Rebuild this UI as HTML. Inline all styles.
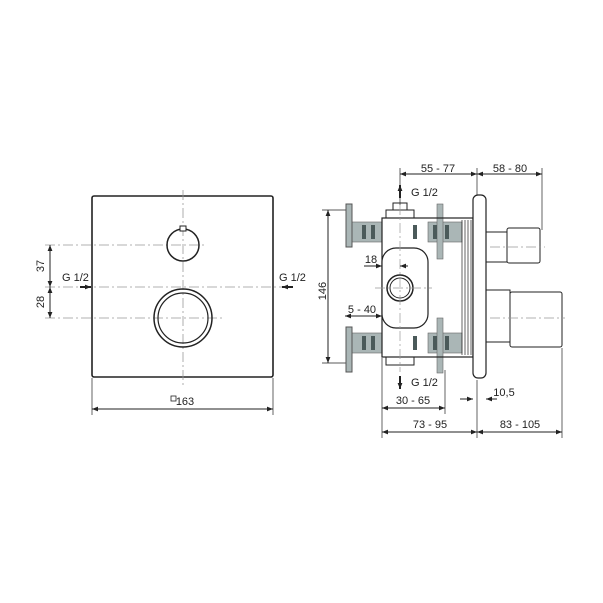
<!DOCTYPE html>
<html><head><style>body{margin:0;background:#fff}svg{display:block}text{font-family:"Liberation Sans",sans-serif;font-size:11px;fill:#222}</style></head>
<body>
<svg width="603" height="603" viewBox="0 0 603 603" xmlns="http://www.w3.org/2000/svg">
<defs>
<marker id="a" viewBox="0 0 10 10" refX="10" refY="5" markerUnits="userSpaceOnUse" markerWidth="8" markerHeight="6" orient="auto-start-reverse"><path d="M0,1 L10,5 L0,9 z" fill="#222"/></marker>
</defs>
<g stroke="#222" fill="none" stroke-width="1">
<!-- LEFT -->
<rect x="92" y="196" width="181" height="181" rx="2" stroke-width="1.6"/>
<g stroke="#999" stroke-dasharray="10,3,2,3" stroke-width="0.8">
<line x1="183" y1="190" x2="183" y2="385"/>
<line x1="45" y1="245" x2="207" y2="245"/>
<line x1="45" y1="287" x2="292" y2="287"/>
<line x1="45" y1="318" x2="223" y2="318"/>
</g>
<circle cx="183" cy="245" r="16" stroke-width="1.5"/>
<rect x="180" y="226" width="6" height="5" fill="#fff" stroke-width="1"/>
<circle cx="183" cy="318" r="29" stroke-width="1.5"/>
<circle cx="183" cy="318" r="25" stroke-width="1.2"/>
<line x1="50" y1="245" x2="50" y2="287" marker-start="url(#a)" marker-end="url(#a)"/>
<line x1="50" y1="287" x2="50" y2="318" marker-start="url(#a)" marker-end="url(#a)"/>
<line x1="80" y1="287" x2="91" y2="287" stroke-width="2" marker-end="url(#a)"/>
<line x1="293" y1="287" x2="282" y2="287" stroke-width="2" marker-end="url(#a)"/>
<line x1="92" y1="378" x2="92" y2="415" stroke-width="0.7"/>
<line x1="273" y1="378" x2="273" y2="415" stroke-width="0.7"/>
<line x1="92" y1="409" x2="273" y2="409" marker-start="url(#a)" marker-end="url(#a)"/>
<rect x="171" y="396" width="5" height="5" stroke-width="0.8"/>

<!-- RIGHT -->
<line x1="400" y1="168" x2="400" y2="205" stroke-width="0.7"/>
<line x1="477" y1="168" x2="477" y2="195" stroke-width="0.7"/>
<line x1="542" y1="168" x2="542" y2="230" stroke-width="0.7"/>
<line x1="400" y1="174" x2="477" y2="174" marker-start="url(#a)" marker-end="url(#a)"/>
<line x1="477" y1="174" x2="542" y2="174" marker-start="url(#a)" marker-end="url(#a)"/>
<line x1="400" y1="198" x2="400" y2="185" stroke-width="2" marker-end="url(#a)"/>
<line x1="400" y1="376" x2="400" y2="389" stroke-width="2" marker-end="url(#a)"/>
<line x1="322" y1="210" x2="346" y2="210" stroke-width="0.7"/>
<line x1="322" y1="363" x2="346" y2="363" stroke-width="0.7"/>
<line x1="328" y1="210" x2="328" y2="363" marker-start="url(#a)" marker-end="url(#a)"/>
<g fill="#aab6b6" stroke="#666" stroke-width="0.6">
<rect x="352" y="222" width="30" height="20"/>
<rect x="428" y="222" width="34" height="20"/>
<rect x="352" y="333" width="30" height="20"/>
<rect x="428" y="333" width="34" height="20"/>
<rect x="437" y="204" width="6" height="55"/>
<rect x="437" y="318" width="6" height="55"/>
</g>
<g fill="#4b5a5a" stroke="none">
<rect x="362" y="225" width="4" height="14"/><rect x="371" y="225" width="4" height="14"/>
<rect x="362" y="336" width="4" height="14"/><rect x="371" y="336" width="4" height="14"/>
<rect x="413" y="225" width="4" height="14"/><rect x="413" y="336" width="4" height="14"/>
<rect x="433" y="225" width="4" height="14"/><rect x="445" y="225" width="4" height="14"/>
<rect x="433" y="336" width="4" height="14"/><rect x="445" y="336" width="4" height="14"/>
</g>
<rect x="346" y="204" width="6" height="43" fill="#aab6b6" stroke="#555"/>
<rect x="346" y="327" width="6" height="45" fill="#aab6b6" stroke="#555"/>
<rect x="382" y="218" width="91" height="139" fill="none" stroke-width="1.2"/>
<rect x="386" y="210" width="28" height="8"/><rect x="393" y="203" width="14" height="7"/>
<rect x="386" y="357" width="28" height="8"/>
<rect x="382" y="248" width="46" height="80" rx="14" fill="#fff" stroke-width="1.2"/>
<circle cx="400" cy="288" r="13" stroke-width="1.5"/><circle cx="400" cy="288" r="10"/>
<g stroke-width="0.7"><line x1="462" y1="220" x2="462" y2="355"/><line x1="465" y1="220" x2="465" y2="355"/><line x1="468" y1="220" x2="468" y2="355"/><line x1="471" y1="220" x2="471" y2="355"/></g>
<rect x="473" y="195" width="13" height="183" rx="5" stroke-width="1.2" fill="#fff"/>
<rect x="486" y="232" width="21" height="30"/>
<rect x="507" y="228" width="33" height="35" rx="2"/>
<rect x="486" y="290" width="24" height="52"/>
<rect x="510" y="292" width="52" height="55" rx="2"/>
<g stroke="#999" stroke-dasharray="10,3,2,3" stroke-width="0.7">
<line x1="400" y1="205" x2="400" y2="372"/>
<line x1="375" y1="288" x2="432" y2="288"/>
<line x1="490" y1="247" x2="545" y2="247"/>
<line x1="490" y1="318" x2="565" y2="318"/>
</g>
<line x1="364" y1="266" x2="382" y2="266" marker-end="url(#a)"/>
<line x1="408" y1="266" x2="400" y2="266" marker-end="url(#a)"/>
<line x1="345" y1="316" x2="382" y2="316" marker-start="url(#a)" marker-end="url(#a)"/>
<line x1="382" y1="358" x2="382" y2="438" stroke-width="0.7"/>
<line x1="445" y1="370" x2="445" y2="414" stroke-width="0.7"/>
<line x1="477" y1="380" x2="477" y2="438" stroke-width="0.7"/>
<line x1="562" y1="348" x2="562" y2="438" stroke-width="0.7"/>
<line x1="460" y1="399" x2="473" y2="399" marker-end="url(#a)"/>
<line x1="497" y1="399" x2="486" y2="399" marker-end="url(#a)"/>
<line x1="382" y1="408" x2="445" y2="408" marker-start="url(#a)" marker-end="url(#a)"/>
<line x1="382" y1="432" x2="477" y2="432" marker-start="url(#a)" marker-end="url(#a)"/>
<line x1="477" y1="432" x2="562" y2="432" marker-start="url(#a)" marker-end="url(#a)"/>
</g>
<text x="40" y="270" transform="rotate(-90 40 266)" text-anchor="middle">37</text>
<text x="40" y="306" transform="rotate(-90 40 302)" text-anchor="middle">28</text>
<text x="62" y="281">G 1/2</text>
<text x="279" y="281">G 1/2</text>
<text x="185" y="405" text-anchor="middle">163</text>
<text x="438" y="172" text-anchor="middle">55 - 77</text>
<text x="510" y="172" text-anchor="middle">58 - 80</text>
<text x="411" y="196">G 1/2</text>
<text x="411" y="386">G 1/2</text>
<text x="318" y="291" transform="rotate(-90 322 287)" text-anchor="middle">146</text>
<text x="371" y="263" text-anchor="middle">18</text>
<text x="362" y="313" text-anchor="middle">5 - 40</text>
<text x="504" y="396" text-anchor="middle">10,5</text>
<text x="413" y="404" text-anchor="middle">30 - 65</text>
<text x="430" y="428" text-anchor="middle">73 - 95</text>
<text x="520" y="428" text-anchor="middle">83 - 105</text>
</svg>
</body></html>
